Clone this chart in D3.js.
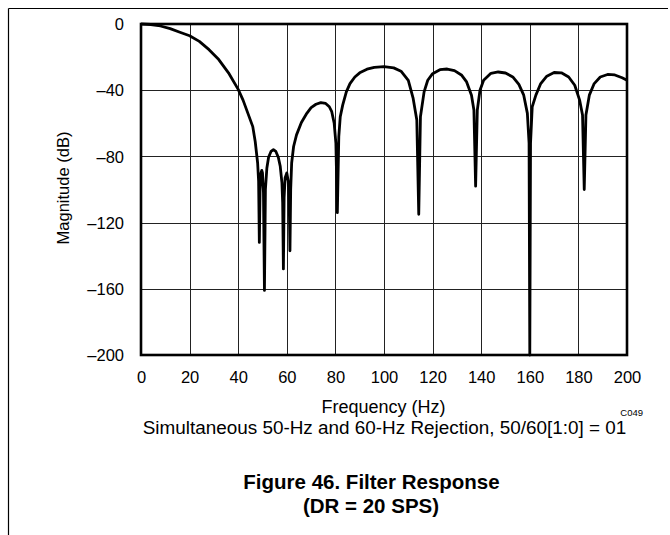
<!DOCTYPE html>
<html>
<head>
<meta charset="utf-8">
<script src="https://cdn.jsdelivr.net/npm/d3@7/dist/d3.min.js"></script>
<style>
  html, body { margin: 0; padding: 0; background: #fff; }
  svg { display: block; }
  text { font-family: "Liberation Sans", Arial, Helvetica, sans-serif; fill: #000; }
</style>
</head>
<body>
<svg id="chart" width="670" height="535"></svg>
<script>
// ---- data ----
const freqHz = [0, 4, 8, 12, 16, 20, 24, 28, 32, 36, 40, 42, 44, 46, 47, 48, 48.4, 48.7, 49.0, 49.4, 49.7, 50.0, 50.4, 50.8, 51.2, 51.8, 52.5, 53.5, 54.5, 55.5, 56.5, 57.3, 58.0, 58.3, 58.6, 58.9, 59.3, 60.0, 60.6, 61.0, 61.3, 61.6, 62.0, 62.8, 64, 66, 68, 70, 72, 74, 76, 77.5, 78.5, 79.5, 80.2, 80.8, 81.4, 82, 83, 84.5, 86, 88, 90, 93, 96, 100, 104, 107, 110, 112, 113.5, 114.3, 115, 116.5, 118, 120, 123, 126, 129, 132, 134, 136, 137, 137.7, 138.4, 139.5, 141, 144, 147, 150, 153, 155.5, 157.5, 159, 159.7, 160, 160.3, 161, 162.5, 164.5, 167, 170, 173, 176, 178.5, 180.5, 181.7, 182.4, 183.1, 184.5, 186.5, 189, 192, 195, 198, 200];
const magnitudeDb = [0, -0.3, -1.2, -2.8, -5.0, -7.1, -10.5, -15.5, -21.5, -29.5, -39.5, -46, -54, -62, -71, -84, -95, -132, -100, -90, -88.5, -90, -102, -161, -100, -87, -80.5, -77, -76, -77, -80.5, -86, -96, -108, -148, -105, -93, -90, -95, -108, -137, -100, -84, -74, -67, -59.5, -54.5, -50.5, -48.5, -47.5, -48, -50, -53, -60, -72, -114, -68, -56, -49, -41, -36, -32, -29.5, -27.3, -26.2, -25.8, -26.5, -28.5, -34, -45, -58, -115, -56, -41, -34, -30, -27.6, -27.2, -28.2, -31, -35, -43, -52, -98, -52, -40, -34, -29.8, -29, -29.6, -32, -36.5, -43, -54, -72, -200, -72, -50, -43, -36, -31.5, -29.3, -29.5, -32, -37, -46, -55, -100, -55, -43, -36, -32, -30.5, -30.8, -32.5, -34];
const xTicks = [0, 20, 40, 60, 80, 100, 120, 140, 160, 180, 200];
const yTicks = [0, -40, -80, -120, -160, -200];
const yTickLabels = ["0", "\u201340", "\u201380", "\u2013120", "\u2013160", "\u2013200"];
const xTitle = "Frequency (Hz)";
const yTitle = "Magnitude (dB)";
const figId = "C049";
const subTitle = "Simultaneous 50-Hz and 60-Hz Rejection, 50/60[1:0] = 01";
const figTitle1 = "Figure 46. Filter Response";
const figTitle2 = "(DR = 20 SPS)";

// ---- layout ----
const svg = d3.select("#chart");
const L = 141, R = 627, T = 24, B = 355;
const x = d3.scaleLinear().domain([0, 200]).range([L, R]);
const y = d3.scaleLinear().domain([-200, 0]).range([B, T]);

// page border (top and left rule)
svg.append("line").attr("x1", 8.5).attr("x2", 668).attr("y1", 8.5).attr("y2", 8.5)
  .attr("stroke", "#000").attr("stroke-width", 1.2);
svg.append("line").attr("x1", 8.5).attr("x2", 8.5).attr("y1", 8.5).attr("y2", 535)
  .attr("stroke", "#000").attr("stroke-width", 1.2);

// grid
const g = svg.append("g");
g.selectAll("line.vg").data(xTicks.slice(1, -1)).join("line")
  .attr("x1", d => Math.round(x(d)) + 0.5).attr("x2", d => Math.round(x(d)) + 0.5)
  .attr("y1", T).attr("y2", B).attr("stroke", "#222").attr("stroke-width", 1);
g.selectAll("line.hg").data(yTicks.slice(1, -1)).join("line")
  .attr("y1", d => Math.round(y(d)) + 0.5).attr("y2", d => Math.round(y(d)) + 0.5)
  .attr("x1", L).attr("x2", R).attr("stroke", "#222").attr("stroke-width", 1);

// axes labels via d3 axes (no domain / tick lines)
const xAxis = d3.axisBottom(x).tickValues(xTicks).tickSize(0).tickPadding(0);
const xa = svg.append("g").attr("transform", `translate(0,${B})`).call(xAxis);
xa.select(".domain").remove();
xa.selectAll("text").attr("y", 28).attr("dy", null)
  .style("font-size", "16.5px").style("font-family", '"Liberation Sans", Arial, sans-serif').attr("fill", "#000");

const yAxis = d3.axisLeft(y).tickValues(yTicks).tickSize(0).tickPadding(17)
  .tickFormat((d, i) => yTickLabels[i]);
const ya = svg.append("g").attr("transform", `translate(${L},0)`).call(yAxis);
ya.select(".domain").remove();
ya.selectAll("text").attr("dy", "0.35em")
  .style("font-size", "16.5px").style("font-family", '"Liberation Sans", Arial, sans-serif').attr("fill", "#000");

// curve
const pts = freqHz.map((f, i) => [f, magnitudeDb[i]]);
svg.append("path").datum(pts)
  .attr("fill", "none").attr("stroke", "#000").attr("stroke-width", 2.8)
  .attr("stroke-linejoin", "round")
  .attr("d", d3.line().x(d => x(d[0])).y(d => y(d[1])));

// frame
svg.append("rect").attr("x", L).attr("y", T).attr("width", R - L).attr("height", B - T)
  .attr("fill", "none").attr("stroke", "#000").attr("stroke-width", 2.6);

// titles
svg.append("text").attr("x", (L + R) / 2 - 0.5).attr("y", 413).attr("text-anchor", "middle")
  .style("font-size", "18px").text(xTitle);
svg.append("text").attr("x", 643).attr("y", 415.5).attr("text-anchor", "end")
  .style("font-size", "9.5px").text(figId);
svg.append("text").attr("transform", "translate(69,188) rotate(-90)").attr("text-anchor", "middle")
  .style("font-size", "16.5px").text(yTitle);
svg.append("text").attr("x", 384.5).attr("y", 434).attr("text-anchor", "middle")
  .style("font-size", "18.9px").text(subTitle);
svg.append("text").attr("x", 371.5).attr("y", 489).attr("text-anchor", "middle")
  .style("font-size", "20.5px").style("font-weight", "bold").text(figTitle1);
svg.append("text").attr("x", 371).attr("y", 513).attr("text-anchor", "middle")
  .style("font-size", "20.5px").style("font-weight", "bold").text(figTitle2);
</script>
</body>
</html>
